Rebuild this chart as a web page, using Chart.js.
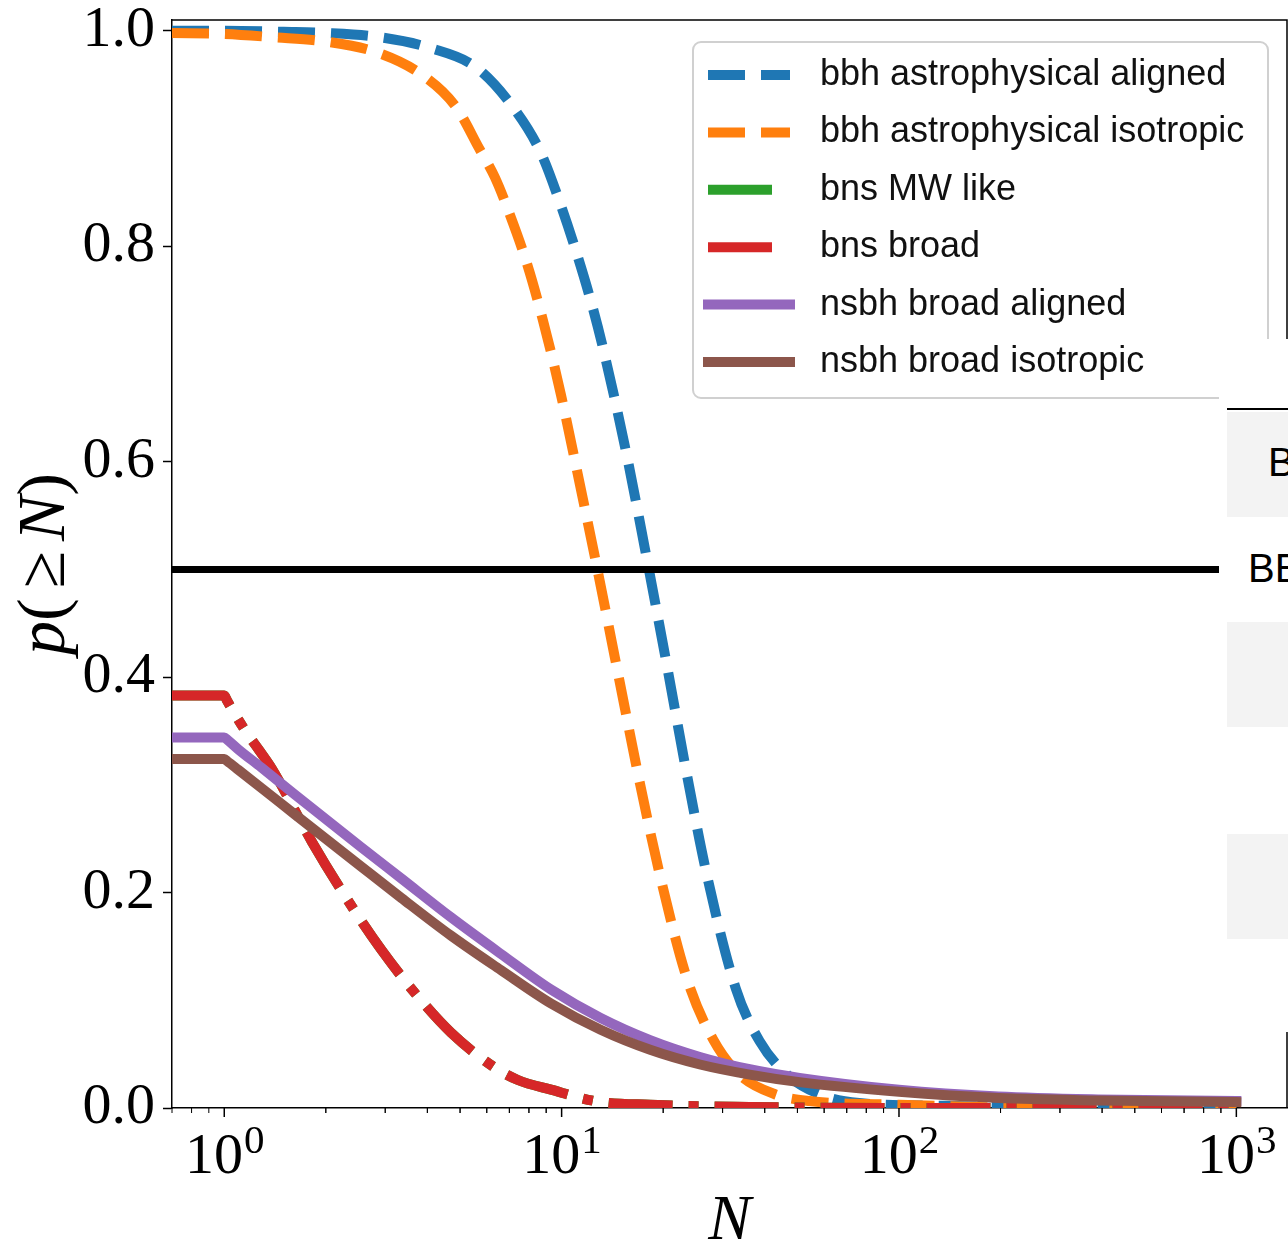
<!DOCTYPE html>
<html>
<head>
<meta charset="utf-8">
<script src="https://cdn.jsdelivr.net/npm/chart.js@4/dist/chart.umd.min.js"></script>
<style>
  html, body { margin: 0; padding: 0; background: #fff; }
  #wrap { position: relative; width: 1288px; height: 1246px; overflow: hidden; }
  #plot { display: block; }
  /* the page fragment that sits over the right edge of the figure */
  .cover { position: absolute; left: 1219px; top: 339px; width: 69px; height: 693px; background: #fff; }
  .rule { position: absolute; left: 8px; top: 69px; width: 61px; height: 2px; background: #000; }
  .row { position: absolute; left: 8px; width: 61px; height: 105px; background: #f3f3f3; }
  .cell { position: absolute; font-family: 'Liberation Sans', Arial, sans-serif; font-size: 40px; line-height: 40px; color: #000; }
</style>
</head>
<body>
<div id="wrap">
  <canvas id="plot" width="1288" height="1246"></canvas>
  <div class="cover">
    <div class="rule"></div>
    <div class="row" style="top:73px"></div>
    <div class="row" style="top:283px"></div>
    <div class="row" style="top:495px"></div>
    <div class="cell" style="left:49px; top:103px">B</div>
    <div class="cell" style="left:29px; top:209px">BE</div>
  </div>
</div>
<script>
// p(>=N) curves, values
const bbhAlignedN = [0.7, 1, 1.5, 2.0, 2.9, 4.08, 5.58, 7.22, 8.67, 9.87, 11.07, 12.34, 13.3, 15.55, 17.81, 20.54, 23.53, 26.96, 32.83, 38.64, 47.37, 60.1, 76.2, 140, 300, 1000];
const bbhAlignedP = [1.0, 1.0, 0.999, 0.998, 0.994, 0.984, 0.966, 0.928, 0.887, 0.841, 0.794, 0.744, 0.704, 0.608, 0.513, 0.410, 0.309, 0.216, 0.111, 0.062, 0.029, 0.011, 0.0046, 0.002, 0, 0];

const bbhIsoN = [0.7, 1, 1.4, 2.0, 2.83, 3.86, 4.87, 5.69, 6.34, 7.03, 7.89, 8.79, 9.94, 11.05, 12.86, 14.83, 17.1, 19.77, 23.7, 28.2, 33.7, 42.7, 54.3, 100, 300, 1000];
const bbhIsoP = [0.998, 0.997, 0.994, 0.99, 0.98, 0.959, 0.929, 0.891, 0.864, 0.829, 0.784, 0.732, 0.663, 0.595, 0.495, 0.397, 0.300, 0.210, 0.117, 0.063, 0.031, 0.013, 0.0065, 0.003, 0, 0];

const bnsN = [0.7, 1, 1.02, 1.15, 1.27, 1.39, 1.82, 2.3, 2.92, 3.76, 4.7, 6.3, 7.42, 9.3, 12.8, 18.3, 36, 100, 1000];
const bnsMwP = [0.383, 0.383, 0.378, 0.351, 0.332, 0.314, 0.247, 0.195, 0.147, 0.103, 0.070, 0.038, 0.026, 0.017, 0.006, 0.003, 0.001, 0, 0];
const bnsBroadP = [0.383, 0.383, 0.378, 0.351, 0.332, 0.314, 0.247, 0.195, 0.147, 0.103, 0.070, 0.038, 0.026, 0.017, 0.006, 0.003, 0.001, 0, 0];

const nsbhN = [0.7, 1, 1.02, 1.1, 1.29, 1.62, 2.55, 3.35, 4.7, 6.61, 9.3, 13.05, 18.3, 25.7, 36.1, 50.7, 100, 197, 389, 1000];
const nsbhAlignedP = [0.344, 0.344, 0.342, 0.333, 0.316, 0.291, 0.242, 0.213, 0.177, 0.143, 0.110, 0.0836, 0.063, 0.0474, 0.036, 0.028, 0.017, 0.0107, 0.008, 0.0065];
const nsbhIsoP = [0.324, 0.324, 0.322, 0.314, 0.297, 0.2725, 0.224, 0.195, 0.160, 0.128, 0.097, 0.0726, 0.054, 0.0404, 0.031, 0.024, 0.015, 0.0092, 0.007, 0.0055];

const thresholdN = [0.7, 1500];
const thresholdP = [0.5, 0.5];

const yTicks = [0, 0.2, 0.4, 0.6, 0.8, 1.0];
const xMajorTicks = [1, 10, 100, 1000];
const xExponents = ['0', '1', '2', '3'];

const pts = (xs, ys) => xs.map((x, i) => ({ x, y: ys[i] }));

const serif = '"Liberation Serif", "DejaVu Serif", serif';
const sans = '"Liberation Sans", "DejaVu Sans", sans-serif';

// top and right spines
const framePlugin = {
  id: 'frame',
  afterDraw(chart) {
    const { ctx, chartArea: a } = chart;
    ctx.save();
    ctx.strokeStyle = '#000';
    ctx.lineWidth = 1.5;
    ctx.beginPath();
    ctx.moveTo(a.left, a.top);
    ctx.lineTo(a.right, a.top);
    ctx.lineTo(a.right, a.bottom);
    ctx.stroke();
    ctx.restore();
  }
};

// log x ticks with 10^k labels
const xTickPlugin = {
  id: 'xTicks',
  afterDraw(chart) {
    const { ctx, chartArea: a, scales: { x } } = chart;
    ctx.save();
    ctx.strokeStyle = '#000';
    const minors = [];
    xMajorTicks.forEach(m => {
      for (let k = 2; k < 10; k++) minors.push(m * k / 10, m * k);
    });
    minors.forEach(v => {
      if (v < x.min || v > x.max || xMajorTicks.includes(v)) return;
      const px = x.getPixelForValue(v);
      ctx.lineWidth = 1;
      ctx.beginPath();
      ctx.moveTo(px, a.bottom);
      ctx.lineTo(px, a.bottom + 5);
      ctx.stroke();
    });
    ctx.fillStyle = '#000';
    ctx.textBaseline = 'alphabetic';
    xMajorTicks.forEach((v, i) => {
      const px = x.getPixelForValue(v);
      ctx.lineWidth = 1.5;
      ctx.beginPath();
      ctx.moveTo(px, a.bottom);
      ctx.lineTo(px, a.bottom + 9);
      ctx.stroke();
      ctx.font = '58px ' + serif;
      const wBase = ctx.measureText('10').width;
      ctx.font = '41px ' + serif;
      const wExp = ctx.measureText(xExponents[i]).width;
      const left = px - (wBase + wExp) / 2;
      ctx.textAlign = 'left';
      ctx.font = '58px ' + serif;
      ctx.fillText('10', left, 1173);
      ctx.font = '41px ' + serif;
      ctx.fillText(xExponents[i], left + wBase + 1, 1153);
    });
    ctx.restore();
  }
};

// axis titles with italic math symbols
const titlePlugin = {
  id: 'titles',
  afterDraw(chart) {
    const { ctx, chartArea: a } = chart;
    ctx.save();
    ctx.fillStyle = '#000';
    ctx.textBaseline = 'alphabetic';
    ctx.textAlign = 'center';
    ctx.font = 'italic 64px ' + serif;
    ctx.fillText('N', (a.left + a.right) / 2, 1239);

    const parts = [['p', true], ['(', false], ['\u2265', false], ['N', true], [')', false]];
    const font = it => (it ? 'italic ' : '') + '68px ' + serif;
    const gap = t => (t === '\u2265' ? 10 : 0);
    let total = 0;
    parts.forEach(([t, it]) => { ctx.font = font(it); total += ctx.measureText(t).width + 2 * gap(t); });
    ctx.translate(64, (a.top + a.bottom) / 2);
    ctx.rotate(-Math.PI / 2);
    ctx.textAlign = 'left';
    let cx = -total / 2;
    parts.forEach(([t, it]) => {
      ctx.font = font(it);
      ctx.fillText(t, cx + gap(t), 0);
      cx += ctx.measureText(t).width + 2 * gap(t);
    });
    ctx.restore();
  }
};

// matplotlib-style legend box in the upper right
const legendPlugin = {
  id: 'mplLegend',
  afterDraw(chart) {
    const { ctx } = chart;
    const items = chart.data.datasets.filter(d => d.label);
    ctx.save();
    ctx.beginPath();
    ctx.roundRect(693, 42, 575, 356, 8);
    ctx.fillStyle = 'rgba(255,255,255,0.8)';
    ctx.fill();
    ctx.strokeStyle = '#d0d0d0';
    ctx.lineWidth = 2;
    ctx.stroke();
    items.forEach((d, i) => {
      const y = 75 + i * 57.4;
      const dash = d.borderDash || [];
      // dash-dot handles show only their first long dash
      const end = dash.length === 4 ? 708 + dash[0] : 790;
      ctx.beginPath();
      ctx.strokeStyle = d.borderColor;
      ctx.lineWidth = d.borderWidth;
      ctx.setLineDash(dash.length === 4 ? [] : dash);
      ctx.lineCap = dash.length === 4 ? 'butt' : (d.borderCapStyle || 'butt');
      ctx.moveTo(708, y);
      ctx.lineTo(end, y);
      ctx.stroke();
      ctx.setLineDash([]);
      ctx.fillStyle = '#111';
      ctx.font = '36px ' + sans;
      ctx.textBaseline = 'middle';
      ctx.textAlign = 'left';
      ctx.fillText(d.label, 820, y);
    });
    ctx.restore();
  }
};

const line = (label, xs, ys, color, dash, cap, order) => ({
  label, data: pts(xs, ys), borderColor: color, borderWidth: 10,
  borderDash: dash, borderCapStyle: cap, cubicInterpolationMode: 'monotone',
  pointRadius: 0, fill: false, clip: 0, order
});

const noPad = s => { s.paddingTop = 0; s.paddingBottom = 0; s.paddingLeft = 0; s.paddingRight = 0; };

new Chart(document.getElementById('plot'), {
  type: 'line',
  data: {
    datasets: [
      line('bbh astrophysical aligned', bbhAlignedN, bbhAlignedP, '#1f77b4', [37, 16], 'butt', 7),
      line('bbh astrophysical isotropic', bbhIsoN, bbhIsoP, '#ff7f0e', [37, 16], 'butt', 6),
      line('bns MW like', bnsN, bnsMwP, '#2ca02c', [64, 16, 10, 16], 'butt', 5),
      line('bns broad', bnsN, bnsBroadP, '#d62728', [64, 16, 10, 16], 'butt', 4),
      line('nsbh broad aligned', nsbhN, nsbhAlignedP, '#9467bd', [], 'square', 3),
      line('nsbh broad isotropic', nsbhN, nsbhIsoP, '#8c564b', [], 'square', 2),
      { data: pts(thresholdN, thresholdP), borderColor: '#000', borderWidth: 7, pointRadius: 0, clip: 0, order: 1 }
    ]
  },
  options: {
    responsive: false,
    animation: false,
    devicePixelRatio: 1,
    layout: { padding: { top: 20, right: 1, left: 0, bottom: 0 } },
    plugins: { legend: { display: false }, tooltip: { enabled: false } },
    scales: {
      x: {
        type: 'logarithmic',
        min: 0.708,
        max: 1413,
        grid: { display: false },
        border: { display: true, color: '#000', width: 1.5 },
        ticks: { display: false },
        afterFit: s => { s.height = 138; noPad(s); }
      },
      y: {
        min: 0,
        max: 1.01,
        afterBuildTicks: s => { s.ticks = yTicks.map(v => ({ value: v })); },
        grid: { drawOnChartArea: false, drawTicks: true, tickLength: 9, tickColor: '#000', tickWidth: 1.5 },
        border: { display: true, color: '#000', width: 1.5 },
        ticks: {
          color: '#000', padding: 8,
          font: { family: serif, size: 58 },
          callback: v => v.toFixed(1)
        },
        afterFit: s => { s.width = 172; noPad(s); }
      }
    }
  },
  plugins: [framePlugin, xTickPlugin, titlePlugin, legendPlugin]
});
</script>
</body>
</html>
